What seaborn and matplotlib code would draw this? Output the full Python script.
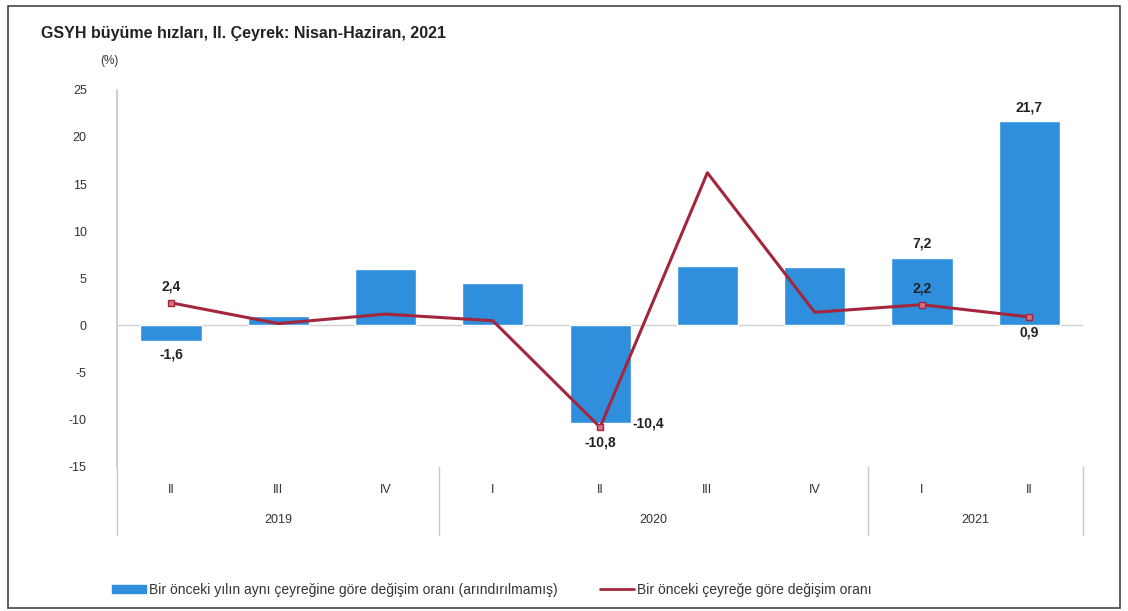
import matplotlib
matplotlib.use('Agg')
import matplotlib.pyplot as plt
import matplotlib.transforms as mtransforms
from matplotlib.patches import Rectangle, Patch
from matplotlib.lines import Line2D
import seaborn as sns
import pandas as pd
import numpy as np

# ------------- Data -------------
years = ['2019', '2019', '2019', '2020', '2020', '2020', '2020', '2021', '2021']
quarters = ['II', 'III', 'IV', 'I', 'II', 'III', 'IV', 'I', 'II']
annual_change = [-1.6, 1.0, 6.0, 4.5, -10.4, 6.3, 6.2, 7.2, 21.7]
quarterly_change = [2.4, 0.2, 1.2, 0.5, -10.8, 16.2, 1.4, 2.2, 0.9]

bar_label_idx = [0, 4, 7, 8]
line_label_idx = [0, 4, 7, 8]

bar_color = '#2f8fdc'
line_color = '#a3263c'

sns.set_theme(style='white')
plt.rcParams['font.family'] = ['Liberation Sans', 'DejaVu Sans']
plt.rcParams['axes.unicode_minus'] = False

df = pd.DataFrame({
    'key': [f'{y}-{q}' for y, q in zip(years, quarters)],
    'pos': np.arange(len(years)),
    'annual': annual_change,
    'quarterly': quarterly_change,
})

fig = plt.figure(figsize=(11.28, 6.11), dpi=100)
ax = fig.add_axes([0.104, 0.236, 0.856, 0.617])

sns.barplot(data=df, x='key', y='annual', color=bar_color, width=0.57,
            saturation=1, ax=ax, zorder=2)
sns.lineplot(data=df, x='pos', y='quarterly', color=line_color, linewidth=2.2,
             ax=ax, zorder=3)
ax.scatter(df['pos'].iloc[line_label_idx], df['quarterly'].iloc[line_label_idx],
           marker='s', s=22, color='#d9708a', edgecolor=line_color, zorder=4)

ax.set_xlim(-0.5, len(years) - 0.5)
ax.set_ylim(-15, 25)
ax.set_yticks(range(-15, 30, 5))
ax.tick_params(axis='y', labelsize=9, colors='#333333', length=0, pad=22)
ax.set_xticks([])
ax.set_xlabel('')
ax.set_ylabel('')
for s in ['top', 'right', 'bottom']:
    ax.spines[s].set_visible(False)
ax.spines['left'].set_color('#c8c8c8')
ax.axhline(0, color='#d0d0d0', linewidth=1, zorder=1)

def fmt(v):
    return f'{v:.1f}'.replace('.', ',')

# bar value labels
for i in bar_label_idx:
    v = annual_change[i]
    if i == 4:
        ax.text(i + 0.3, v, fmt(v), ha='left', va='center', fontsize=10,
                fontweight='bold', color='#222222')
    elif v < 0:
        ax.text(i, v - 0.7, fmt(v), ha='center', va='top', fontsize=10,
                fontweight='bold', color='#222222')
    else:
        ax.text(i, v + 0.7, fmt(v), ha='center', va='bottom', fontsize=10,
                fontweight='bold', color='#222222')

# line value labels
for i in line_label_idx:
    v = quarterly_change[i]
    if i in (4, 8):
        ax.text(i, v - 0.9, fmt(v), ha='center', va='top', fontsize=10,
                fontweight='bold', color='#222222')
    else:
        ax.text(i, v + 1.0, fmt(v), ha='center', va='bottom', fontsize=10,
                fontweight='bold', color='#222222')

# category axis: quarters and years
trans = mtransforms.blended_transform_factory(ax.transData, ax.transAxes)
for i, q in enumerate(quarters):
    ax.text(i, -0.062, q, transform=trans, ha='center', va='center',
            fontsize=9, color='#333333')
year_names = list(dict.fromkeys(years))
for y in year_names:
    idx = [i for i, yy in enumerate(years) if yy == y]
    ax.text(np.mean(idx), -0.14, y, transform=trans, ha='center', va='center',
            fontsize=9, color='#333333')
bounds = [-0.5] + [i + 0.5 for i in range(len(years) - 1) if years[i] != years[i + 1]] + [len(years) - 0.5]
for b in bounds:
    ax.plot([b, b], [0, -0.18], transform=trans, color='#c8c8c8',
            linewidth=1, clip_on=False)

fig.text(0.036, 0.945, 'GSYH büyüme hızları, II. Çeyrek: Nisan-Haziran, 2021',
         fontsize=11.5, fontweight='bold', color='#222222', ha='left', va='center')
fig.text(0.089, 0.9, '(%)', fontsize=8.5, color='#333333', ha='left', va='center')

handles = [Patch(color=bar_color),
           Line2D([0], [0], color=line_color, linewidth=2)]
labels = ['Bir önceki yılın aynı çeyreğine göre değişim oranı (arındırılmamış)',
          'Bir önceki çeyreğe göre değişim oranı']
fig.legend(handles, labels, loc='center left', bbox_to_anchor=(0.088, 0.035),
           ncol=2, frameon=False, fontsize=10, columnspacing=3,
           handlelength=2.5, handleheight=0.5, handletextpad=0.2,
           labelcolor='#333333')

fig.patches.append(Rectangle((0.007, 0.005), 0.986, 0.985, transform=fig.transFigure,
                             fill=False, edgecolor='#444444', linewidth=1.2))

plt.savefig('out.png', dpi=100)
plt.close()
